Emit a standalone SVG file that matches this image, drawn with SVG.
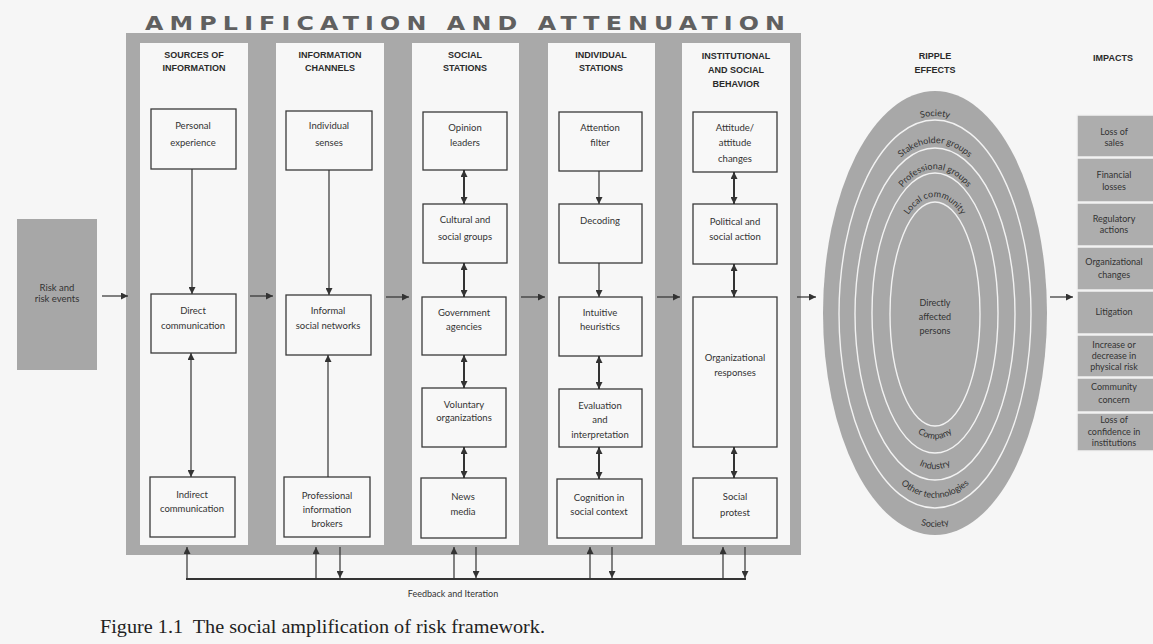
<svg xmlns="http://www.w3.org/2000/svg" width="1153" height="644" viewBox="0 0 1153 644">
<style>
.t{font-family:Lato,"Liberation Sans",sans-serif;font-size:9.5px;fill:#333;text-anchor:middle}
.h{font-family:"Liberation Sans",Arial,sans-serif;font-size:9px;font-weight:bold;fill:#2a2a2a;text-anchor:middle}
.r{font-family:Lato,"Liberation Sans",sans-serif;font-size:9px;fill:#333;text-anchor:middle}
.box{fill:#f8f8f8;stroke:#3a3a3a;stroke-width:1.3}
.col{fill:#f7f7f7}
.imp{fill:#adadad;stroke:#f2f2f2;stroke-width:1.5}
.ln{stroke:#333;stroke-width:1.2;fill:none}
.lnb{stroke:#333;stroke-width:2;fill:none}
.ring{fill:none;stroke:#f2f2f2;stroke-width:1.4}
</style>
<defs>
<marker id="ah" viewBox="0 0 10 10" refX="10" refY="5" markerWidth="8" markerHeight="7" markerUnits="userSpaceOnUse" orient="auto-start-reverse"><path d="M0,0 L10,5 L0,10 z" fill="#333"/></marker>
<path id="pSocT" d="M835,314 A100,198 0 0 1 1035,314"/>
<path id="pStk" d="M851,314 A84,171 0 0 1 1019,314"/>
<path id="pPro" d="M868,314 A67,145 0 0 1 1002,314"/>
<path id="pLoc" d="M885,314 A50,117 0 0 1 985,314"/>
<path id="pCom" d="M879,314 A56,125 0 0 0 991,314"/>
<path id="pInd" d="M863,314 A72,155 0 0 0 1007,314"/>
<path id="pOth" d="M846,314 A89,184 0 0 0 1024,314"/>
<path id="pSocB" d="M831,314 A104,213 0 0 0 1039,314"/>
</defs>
<rect width="1153" height="644" fill="#f6f6f6"/>

<g id="title">
<text transform="scale(1.25,1)" x="116" y="30" textLength="512" lengthAdjust="spacing" font-family="DejaVu Sans, Liberation Sans, sans-serif" font-size="19" font-weight="bold" fill="#606060">AMPLIFICATION AND ATTENUATION</text>
</g>

<g id="panel">
<rect x="126" y="33" width="675" height="522" fill="#a9a9a9"/>
<rect class="col" x="140" y="43" width="108" height="502"/>
<rect class="col" x="276" y="43" width="108" height="502"/>
<rect class="col" x="412" y="43" width="107" height="502"/>
<rect class="col" x="548" y="43" width="107" height="502"/>
<rect class="col" x="682" y="43" width="108" height="502"/>
<text class="h" x="194" y="58">SOURCES OF</text>
<text class="h" x="194" y="71">INFORMATION</text>
<text class="h" x="330" y="58">INFORMATION</text>
<text class="h" x="330" y="71">CHANNELS</text>
<text class="h" x="465" y="58">SOCIAL</text>
<text class="h" x="465" y="71">STATIONS</text>
<text class="h" x="601" y="58">INDIVIDUAL</text>
<text class="h" x="601" y="71">STATIONS</text>
<text class="h" x="736" y="59">INSTITUTIONAL</text>
<text class="h" x="736" y="73">AND SOCIAL</text>
<text class="h" x="736" y="87">BEHAVIOR</text>
</g>

<g id="risk-events">
<rect x="17" y="219" width="80" height="151" fill="#a7a7a7"/>
<text class="t" x="57" y="291">Risk and</text>
<text class="t" x="57" y="302">risk events</text>
</g>

<g id="personal-experience"><rect class="box" x="151" y="109" width="85" height="60"/><text class="t" x="193" y="129">Personal</text><text class="t" x="193" y="146">experience</text></g>
<g id="direct-communication"><rect class="box" x="151" y="294" width="85" height="59"/><text class="t" x="193" y="314">Direct</text><text class="t" x="193" y="329">communication</text></g>
<g id="indirect-communication"><rect class="box" x="150" y="477" width="85" height="60"/><text class="t" x="192" y="498">Indirect</text><text class="t" x="192" y="512">communication</text></g>

<g id="individual-senses"><rect class="box" x="286" y="111" width="86" height="59"/><text class="t" x="329" y="129">Individual</text><text class="t" x="329" y="146">senses</text></g>
<g id="informal-social-networks"><rect class="box" x="286" y="295" width="85" height="60"/><text class="t" x="328" y="314">Informal</text><text class="t" x="328" y="329">social networks</text></g>
<g id="professional-brokers"><rect class="box" x="284" y="477" width="86" height="60"/><text class="t" x="327" y="499">Professional</text><text class="t" x="327" y="513">information</text><text class="t" x="327" y="527">brokers</text></g>

<g id="opinion-leaders"><rect class="box" x="423" y="112" width="84" height="58"/><text class="t" x="465" y="131">Opinion</text><text class="t" x="465" y="146">leaders</text></g>
<g id="cultural-social-groups"><rect class="box" x="423" y="204" width="84" height="59"/><text class="t" x="465" y="223">Cultural and</text><text class="t" x="465" y="240">social groups</text></g>
<g id="government-agencies"><rect class="box" x="422" y="297" width="84" height="58"/><text class="t" x="464" y="316">Government</text><text class="t" x="464" y="330">agencies</text></g>
<g id="voluntary-organizations"><rect class="box" x="422" y="388" width="84" height="59"/><text class="t" x="464" y="408">Voluntary</text><text class="t" x="464" y="421">organizations</text></g>
<g id="news-media"><rect class="box" x="421" y="478" width="85" height="60"/><text class="t" x="463" y="500">News</text><text class="t" x="463" y="515">media</text></g>

<g id="attention-filter"><rect class="box" x="559" y="112" width="83" height="59"/><text class="t" x="600" y="131">Attention</text><text class="t" x="600" y="146">filter</text></g>
<g id="decoding"><rect class="box" x="559" y="204" width="83" height="59"/><text class="t" x="600" y="224">Decoding</text></g>
<g id="intuitive-heuristics"><rect class="box" x="559" y="297" width="83" height="59"/><text class="t" x="600" y="316">Intuitive</text><text class="t" x="600" y="330">heuristics</text></g>
<g id="evaluation-interpretation"><rect class="box" x="559" y="389" width="83" height="58"/><text class="t" x="600" y="409">Evaluation</text><text class="t" x="600" y="423">and</text><text class="t" x="600" y="438">interpretation</text></g>
<g id="cognition-social-context"><rect class="box" x="557" y="479" width="85" height="59"/><text class="t" x="599" y="501">Cognition in</text><text class="t" x="599" y="515">social context</text></g>

<g id="attitude-changes"><rect class="box" x="693" y="112" width="84" height="60"/><text class="t" x="735" y="131">Attitude/</text><text class="t" x="735" y="146">attitude</text><text class="t" x="735" y="162">changes</text></g>
<g id="political-social-action"><rect class="box" x="693" y="204" width="84" height="60"/><text class="t" x="735" y="225">Political and</text><text class="t" x="735" y="240">social action</text></g>
<g id="organizational-responses"><rect class="box" x="693" y="297" width="84" height="150"/><text class="t" x="735" y="361">Organizational</text><text class="t" x="735" y="376">responses</text></g>
<g id="social-protest"><rect class="box" x="693" y="478" width="84" height="60"/><text class="t" x="735" y="500">Social</text><text class="t" x="735" y="516">protest</text></g>

<g id="ripple-effects">
<text class="h" x="935" y="59">RIPPLE</text>
<text class="h" x="935" y="73">EFFECTS</text>
<ellipse cx="935" cy="313" rx="112" ry="222" fill="#a8a8a8"/>
<ellipse class="ring" cx="935" cy="314" rx="96" ry="194"/>
<ellipse class="ring" cx="935" cy="314" rx="80" ry="166"/>
<ellipse class="ring" cx="935" cy="313" rx="63" ry="140"/>
<ellipse class="ring" cx="935" cy="314" rx="45" ry="112"/>
<text class="r"><textPath href="#pSocT" startOffset="50%">Society</textPath></text>
<text class="r"><textPath href="#pStk" startOffset="50%">Stakeholder groups</textPath></text>
<text class="r"><textPath href="#pPro" startOffset="50%">Professional groups</textPath></text>
<text class="r"><textPath href="#pLoc" startOffset="50%">Local community</textPath></text>
<text class="r"><textPath href="#pCom" startOffset="50%">Company</textPath></text>
<text class="r"><textPath href="#pInd" startOffset="50%">Industry</textPath></text>
<text class="r"><textPath href="#pOth" startOffset="50%">Other technologies</textPath></text>
<text class="r"><textPath href="#pSocB" startOffset="50%">Society</textPath></text>
<text class="r" x="935" y="306">Directly</text>
<text class="r" x="935" y="320">affected</text>
<text class="r" x="935" y="334">persons</text>
</g>

<g id="impacts">
<text class="h" x="1113" y="61">IMPACTS</text>
<rect class="imp" x="1077" y="115" width="78" height="42"/>
<rect class="imp" x="1077" y="158" width="78" height="44"/>
<rect class="imp" x="1077" y="203" width="78" height="43"/>
<rect class="imp" x="1077" y="247" width="78" height="43"/>
<rect class="imp" x="1077" y="291" width="78" height="43"/>
<rect class="imp" x="1077" y="335" width="78" height="42"/>
<rect class="imp" x="1077" y="378" width="78" height="34"/>
<rect class="imp" x="1077" y="413" width="78" height="38"/>
<text class="r" x="1114" y="135">Loss of</text><text class="r" x="1114" y="146">sales</text>
<text class="r" x="1114" y="178">Financial</text><text class="r" x="1114" y="190">losses</text>
<text class="r" x="1114" y="222">Regulatory</text><text class="r" x="1114" y="233">actions</text>
<text class="r" x="1114" y="265">Organizational</text><text class="r" x="1114" y="278">changes</text>
<text class="r" x="1114" y="315">Litigation</text>
<text class="r" x="1114" y="348">Increase or</text><text class="r" x="1114" y="359">decrease in</text><text class="r" x="1114" y="370">physical risk</text>
<text class="r" x="1114" y="390">Community</text><text class="r" x="1114" y="403">concern</text>
<text class="r" x="1114" y="423">Loss of</text><text class="r" x="1114" y="435">confidence in</text><text class="r" x="1114" y="446">institutions</text>
</g>

<g id="connectors">
<line class="ln" x1="102" y1="296" x2="128" y2="296" marker-end="url(#ah)"/>
<line class="ln" x1="250" y1="296" x2="273" y2="296" marker-end="url(#ah)"/>
<line class="ln" x1="386" y1="297" x2="409" y2="297" marker-end="url(#ah)"/>
<line class="ln" x1="521" y1="297" x2="545" y2="297" marker-end="url(#ah)"/>
<line class="ln" x1="657" y1="297" x2="680" y2="297" marker-end="url(#ah)"/>
<line class="ln" x1="797" y1="297" x2="816" y2="297" marker-end="url(#ah)"/>
<line class="ln" x1="1050" y1="297" x2="1073" y2="297" marker-end="url(#ah)"/>

<line class="ln" x1="192" y1="169" x2="192" y2="294" marker-end="url(#ah)"/>
<line class="ln" x1="191" y1="353" x2="191" y2="477" marker-start="url(#ah)" marker-end="url(#ah)"/>
<line class="ln" x1="329" y1="170" x2="329" y2="295" marker-end="url(#ah)"/>
<line class="ln" x1="328" y1="477" x2="328" y2="355" marker-end="url(#ah)"/>

<line class="lnb" x1="464" y1="170" x2="464" y2="204" marker-start="url(#ah)" marker-end="url(#ah)"/>
<line class="lnb" x1="464" y1="263" x2="464" y2="297" marker-start="url(#ah)" marker-end="url(#ah)"/>
<line class="lnb" x1="464" y1="355" x2="464" y2="388" marker-start="url(#ah)" marker-end="url(#ah)"/>
<line class="lnb" x1="464" y1="447" x2="464" y2="478" marker-start="url(#ah)" marker-end="url(#ah)"/>

<line class="ln" x1="599" y1="171" x2="599" y2="204" marker-end="url(#ah)"/>
<line class="ln" x1="599" y1="263" x2="599" y2="297" marker-end="url(#ah)"/>
<line class="lnb" x1="599" y1="356" x2="599" y2="389" marker-start="url(#ah)" marker-end="url(#ah)"/>
<line class="lnb" x1="599" y1="447" x2="599" y2="479" marker-start="url(#ah)" marker-end="url(#ah)"/>

<line class="lnb" x1="734" y1="172" x2="734" y2="204" marker-start="url(#ah)" marker-end="url(#ah)"/>
<line class="lnb" x1="734" y1="264" x2="734" y2="297" marker-start="url(#ah)" marker-end="url(#ah)"/>
<line class="lnb" x1="734" y1="447" x2="734" y2="478" marker-start="url(#ah)" marker-end="url(#ah)"/>

<line class="lnb" x1="186" y1="579" x2="746" y2="579"/>
<line class="ln" x1="187" y1="579" x2="187" y2="547" marker-end="url(#ah)"/>
<line class="ln" x1="316" y1="579" x2="316" y2="547" marker-end="url(#ah)"/>
<line class="ln" x1="340" y1="547" x2="340" y2="578" marker-end="url(#ah)"/>
<line class="ln" x1="454" y1="579" x2="454" y2="547" marker-end="url(#ah)"/>
<line class="ln" x1="476" y1="547" x2="476" y2="578" marker-end="url(#ah)"/>
<line class="ln" x1="590" y1="579" x2="590" y2="547" marker-end="url(#ah)"/>
<line class="ln" x1="612" y1="547" x2="612" y2="578" marker-end="url(#ah)"/>
<line class="ln" x1="723" y1="579" x2="723" y2="547" marker-end="url(#ah)"/>
<line class="ln" x1="745" y1="547" x2="745" y2="578" marker-end="url(#ah)"/>
<text class="r" x="453" y="597">Feedback and Iteration</text>
</g>

<g id="caption">
<text x="100" y="633" textLength="445" lengthAdjust="spacingAndGlyphs" font-family="Liberation Serif, Times New Roman, serif" font-size="19" fill="#222" xml:space="preserve">Figure 1.1  The social amplification of risk framework.</text>
</g>
</svg>
